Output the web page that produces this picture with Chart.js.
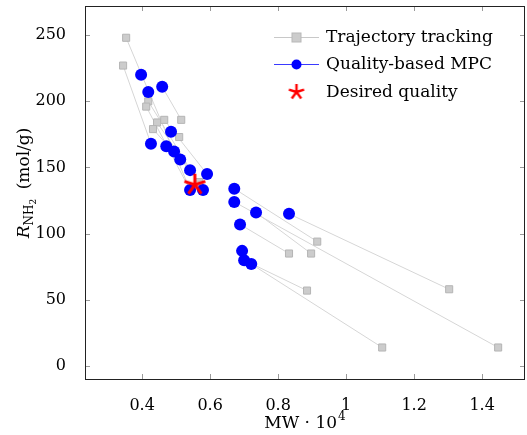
<!DOCTYPE html>
<html>
<head>
<meta charset="utf-8">
<script src="https://cdn.jsdelivr.net/npm/chart.js@4/dist/chart.umd.min.js"></script>
<style>
  html, body { margin: 0; padding: 0; background: #fff; }
</style>
</head>
<body>
<canvas id="chart" width="527" height="435"></canvas>
<script>
// axis ticks
var xTicks = [0.4, 0.6, 0.8, 1, 1.2, 1.4];
var yTicks = [0, 50, 100, 150, 200, 250];

// quality-based MPC results
var mpcMW = [0.397, 0.418, 0.459, 0.485, 0.426, 0.471, 0.494, 0.512, 0.541, 0.591,
             0.541, 0.579, 0.671, 0.671, 0.735, 0.832, 0.688, 0.694, 0.700, 0.721];
var mpcR  = [220, 207, 211, 177, 168, 166, 162, 156, 148, 145,
             133, 133, 134, 124, 116, 115, 107, 87, 80, 77];

// trajectory tracking results
var trackMW = [0.353, 0.344, 0.418, 0.412, 0.444, 0.465, 0.515, 0.432, 0.509,
               0.568, 0.915, 0.897, 1.303, 0.832, 0.885, 1.106, 1.447];
var trackR  = [248, 227, 200, 196, 184, 186, 186, 179, 173,
               139, 94, 85, 58, 85, 57, 14, 14];
// which MPC point each tracking point is joined to
var trackLink = [10, 4, 11, 10, 8, 9, 2, 7, 3, 6, 12, 14, 15, 16, 18, 19, 13];

// desired quality
var targetMW = [0.555];
var targetR  = [137];

var legendLabels = ['Trajectory tracking', 'Quality-based MPC', 'Desired quality'];

var FONT = "'DejaVu Serif', serif";

function pts(xs, ys) {
  return xs.map(function (x, i) { return { x: x, y: ys[i] }; });
}

var linkData = [];
trackMW.forEach(function (x, i) {
  var j = trackLink[i];
  linkData.push({ x: x, y: trackR[i] });
  linkData.push({ x: mpcMW[j], y: mpcR[j] });
  linkData.push({ x: NaN, y: NaN });
});

function makeStar(size, lw) {
  var c = document.createElement('canvas');
  c.width = c.height = size;
  var g = c.getContext('2d');
  g.strokeStyle = '#ff0000';
  g.lineWidth = lw;
  var r = size / 2 - 1;
  g.beginPath();
  for (var k = 0; k < 5; k++) {
    var a = -Math.PI / 2 + k * 2 * Math.PI / 5;
    g.moveTo(size / 2, size / 2);
    g.lineTo(size / 2 + r * Math.cos(a), size / 2 + r * Math.sin(a));
  }
  g.stroke();
  return c;
}
var starBig = makeStar(24, 3);
var starSmall = makeStar(18, 2.4);

var decor = {
  id: 'decor',
  afterDatasetsDraw: function (chart) {
    var ctx = chart.ctx, a = chart.chartArea;
    var xs = chart.scales.x, ys = chart.scales.y;
    ctx.save();
    // inward ticks
    ctx.strokeStyle = '#9a9a9a';
    ctx.lineWidth = 1;
    ctx.beginPath();
    xTicks.forEach(function (v) {
      var px = Math.round(xs.getPixelForValue(v)) + 0.5;
      ctx.moveTo(px, a.bottom); ctx.lineTo(px, a.bottom - 5);
      ctx.moveTo(px, a.top); ctx.lineTo(px, a.top + 5);
    });
    yTicks.forEach(function (v) {
      var py = Math.round(ys.getPixelForValue(v)) + 0.5;
      ctx.moveTo(a.left, py); ctx.lineTo(a.left + 5, py);
      ctx.moveTo(a.right, py); ctx.lineTo(a.right - 5, py);
    });
    ctx.stroke();
    // frame
    ctx.strokeStyle = '#222';
    ctx.strokeRect(Math.round(a.left) + 0.5, Math.round(a.top) + 0.5,
                   Math.round(a.right - a.left) - 1, Math.round(a.bottom - a.top));
    ctx.restore();
  },
  afterDraw: function (chart) {
    var ctx = chart.ctx, a = chart.chartArea;
    ctx.save();
    ctx.fillStyle = '#000';
    ctx.textBaseline = 'alphabetic';

    // x title: MW · 10^4
    var big = '17px ' + FONT, small = '12px ' + FONT;
    ctx.font = big;
    var t1 = 'MW \u00b7 10';
    var w1 = ctx.measureText(t1).width;
    ctx.font = small;
    var w2 = ctx.measureText('4').width;
    var cx = (a.left + a.right) / 2;
    var x0 = cx - (w1 + w2 + 1) / 2;
    ctx.font = big;
    ctx.fillText(t1, x0, 428);
    ctx.font = small;
    ctx.fillText('4', x0 + w1 + 1, 420);

    // y title: R_NH2 (mol/g)
    ctx.translate(29, 183);
    ctx.rotate(-Math.PI / 2);
    var italic = 'italic 17px ' + FONT, sub = '12px ' + FONT, sub2 = '9px ' + FONT;
    ctx.font = italic; var wr = ctx.measureText('R').width;
    ctx.font = sub; var wn = ctx.measureText('NH').width;
    ctx.font = sub2; var w3 = ctx.measureText('2').width;
    ctx.font = big; var wu = ctx.measureText('\u2002(mol/g)').width;
    var tot = wr + wn + w3 + wu + 1;
    var px = -tot / 2;
    ctx.font = italic; ctx.fillText('R', px, 0); px += wr;
    ctx.font = sub; ctx.fillText('NH', px, 4); px += wn;
    ctx.font = sub2; ctx.fillText('2', px, 7); px += w3 + 1;
    ctx.font = big; ctx.fillText('\u2002(mol/g)', px, 0);
    ctx.setTransform(1, 0, 0, 1, 0, 0);

    // legend
    var rows = [37, 64, 92];
    var lx0 = 274, lx1 = 319, mx = 296.5, tx = 326;
    // trajectory tracking
    ctx.strokeStyle = '#c8c8c8'; ctx.lineWidth = 1;
    ctx.beginPath(); ctx.moveTo(lx0, rows[0] + 0.5); ctx.lineTo(lx1, rows[0] + 0.5); ctx.stroke();
    ctx.fillStyle = '#cccccc'; ctx.strokeStyle = '#b8b8b8';
    ctx.fillRect(mx - 4.5, rows[0] - 4, 9, 9);
    ctx.strokeRect(mx - 4.5, rows[0] - 4, 9, 9);
    // quality-based MPC
    ctx.strokeStyle = '#3a3aff';
    ctx.beginPath(); ctx.moveTo(lx0, rows[1] + 0.5); ctx.lineTo(lx1, rows[1] + 0.5); ctx.stroke();
    ctx.fillStyle = '#0000ff';
    ctx.beginPath(); ctx.arc(mx, rows[1] + 0.5, 5, 0, Math.PI * 2); ctx.fill();
    // desired quality
    ctx.drawImage(starSmall, mx - 9, rows[2] - 9);

    ctx.fillStyle = '#000';
    ctx.font = big;
    ctx.textBaseline = 'middle';
    legendLabels.forEach(function (t, i) { ctx.fillText(t, tx, rows[i] + 1); });
    ctx.restore();
  }
};

function noPad(s) {
  s.paddingLeft = 0; s.paddingRight = 0;
  s.paddingTop = 0; s.paddingBottom = 0;
}

new Chart(document.getElementById('chart'), {
  type: 'scatter',
  data: {
    datasets: [
      {
        label: legendLabels[2],
        data: pts(targetMW, targetR),
        pointStyle: starBig,
        pointRadius: 12,
        order: 0
      },
      {
        label: legendLabels[1],
        data: pts(mpcMW, mpcR),
        pointStyle: 'circle',
        pointRadius: 6,
        backgroundColor: '#0000ff',
        borderColor: '#0000ff',
        borderWidth: 0,
        order: 1
      },
      {
        label: legendLabels[0],
        data: pts(trackMW, trackR),
        pointStyle: 'rect',
        pointRadius: 5,
        backgroundColor: '#cccccc',
        borderColor: '#b5b5b5',
        borderWidth: 1,
        order: 2
      },
      {
        label: 'links',
        data: linkData,
        showLine: true,
        spanGaps: false,
        pointRadius: 0,
        borderColor: '#d6d6d6',
        borderWidth: 1,
        order: 3
      }
    ]
  },
  options: {
    responsive: false,
    animation: false,
    devicePixelRatio: 1,
    layout: { autoPadding: false, padding: { top: 6, right: 2, left: 0, bottom: 0 } },
    plugins: { legend: { display: false }, tooltip: { enabled: false } },
    scales: {
      x: {
        type: 'linear',
        min: 0.232,
        max: 1.526,
        grid: { display: false },
        border: { display: false },
        afterFit: function (s) { s.height = 56; noPad(s); },
        afterBuildTicks: function (s) { s.ticks = xTicks.map(function (v) { return { value: v }; }); },
        ticks: {
          color: '#000',
          font: { family: FONT, size: 16 },
          padding: 9,
          maxRotation: 0,
          callback: function (v) { return String(v); }
        }
      },
      y: {
        type: 'linear',
        min: -9.8,
        max: 272,
        grid: { display: false },
        border: { display: false },
        afterFit: function (s) { s.width = 85; noPad(s); },
        afterBuildTicks: function (s) { s.ticks = yTicks.map(function (v) { return { value: v }; }); },
        ticks: {
          color: '#000',
          font: { family: FONT, size: 16 },
          padding: 11,
          callback: function (v) { return String(v); }
        }
      }
    }
  },
  plugins: [decor]
});
</script>
</body>
</html>
